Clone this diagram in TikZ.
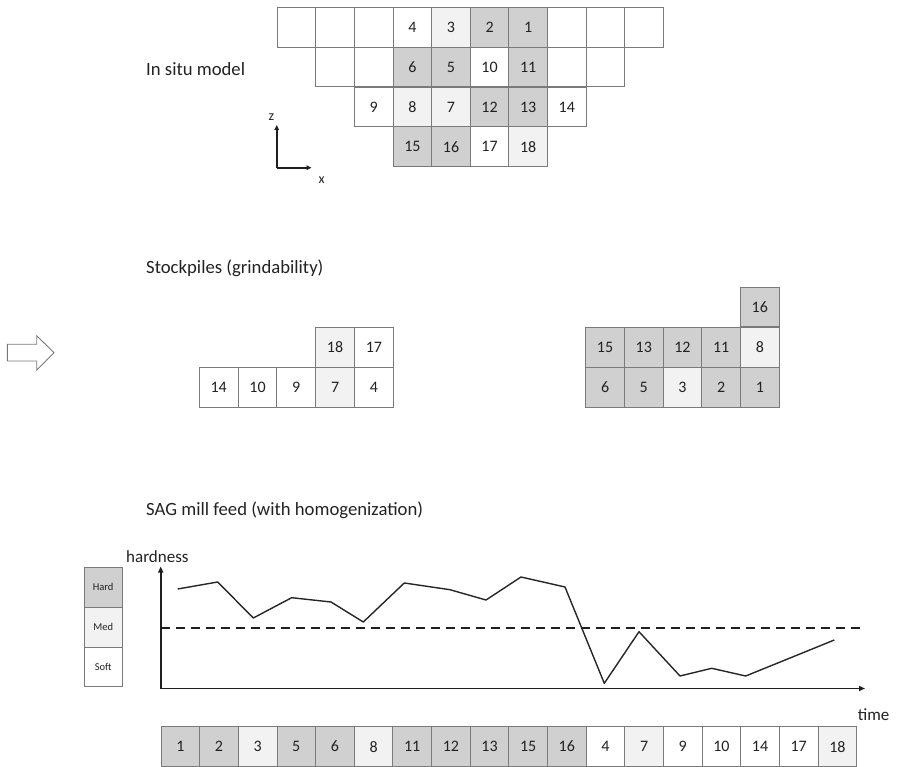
\documentclass[tikz,border=0pt]{standalone}
\usepackage{fontspec}
\setmainfont{Carlito}
\usetikzlibrary{arrows.meta}
\definecolor{hardc}{HTML}{D0D0D0}
\definecolor{medc}{HTML}{F2F2F2}
\definecolor{edgec}{HTML}{7A7A7A}
\definecolor{txtc}{HTML}{222222}
\begin{document}
\begin{tikzpicture}[x=1pt,y=-1pt,
  cell/.style={draw=edgec,line width=0.9pt,minimum width=38.6pt,minimum height=39.8pt,inner sep=0pt,
    text=txtc,font=\fontsize{16}{16}\selectfont},
  legcell/.style={draw=edgec,line width=0.9pt,minimum width=38.3pt,minimum height=39.8pt,inner sep=0pt,
    text=txtc,font=\fontsize{10.5}{10.5}\selectfont},
  title/.style={anchor=base west,inner sep=0pt,text=txtc,font=\fontsize{18.7}{18.7}\selectfont},
  axlabel/.style={anchor=base west,inner sep=0pt,text=txtc,font=\fontsize{17}{17}\selectfont},
  axisline/.style={line width=1.9pt,draw=black!88,-{Triangle[length=6pt,width=5pt]}},
  curve/.style={line width=1.4pt,draw=black!85,line join=round},
  meanline/.style={line width=1.9pt,draw=black!88,dash pattern=on 9pt off 6pt}]
\useasboundingbox (0,0) rectangle (898,767);

% ---------- In situ model ----------
\node[title] (t1) at (146,75.7) {In situ model};
\foreach \c/\t/\f [count=\i] in {0//white,1//white,2//white,3/4/white,4/3/medc,5/2/hardc,6/1/hardc,7//white,8//white,9//white}
  \node[cell,fill=\f] (ra\i) at ({296.6+38.6*\c},27.2) {\t};
\foreach \c/\t/\f [count=\i] in {1//white,2//white,3/6/hardc,4/5/hardc,5/10/white,6/11/hardc,7//white,8//white}
  \node[cell,fill=\f] (rb\i) at ({296.6+38.6*\c},67) {\t};
\foreach \c/\t/\f [count=\i] in {2/9/white,3/8/medc,4/7/medc,5/12/hardc,6/13/hardc,7/14/white}
  \node[cell,fill=\f] (rc\i) at ({296.6+38.6*\c},106.9) {\t};
\foreach \c/\t/\f [count=\i] in {3/15/hardc,4/16/hardc,5/17/white,6/18/medc}
  \node[cell,fill=\f] (rd\i) at ({296.6+38.6*\c},146.7) {\t};

% mini axes
\coordinate (o) at (276.7,167.7);
\coordinate (zt) at (276.7,125);
\coordinate (xt) at (311.5,167.7);
\draw[axisline,line width=1.7pt,-{Triangle[length=5pt,width=4.5pt]}] (o) -- (zt);
\draw[axisline,line width=1.7pt,-{Triangle[length=5pt,width=4.5pt]}] (o) -- (xt);
\node[inner sep=0pt,text=txtc,font=\fontsize{14}{14}\selectfont] (zl) at (271.5,117) {z};
\node[inner sep=0pt,text=txtc,font=\fontsize{14}{14}\selectfont] (xl) at (321.7,180) {x};

% ---------- Stockpiles ----------
\node[title] (t2) at (146,274) {Stockpiles (grindability)};
\draw[draw=edgec,line width=0.9pt,fill=white]
  (7.3,344.3) -- (36.7,344.3) -- (36.7,335.7) -- (54,352.7) -- (36.7,370) -- (36.7,361) -- (7.3,361) -- cycle;

\foreach \c/\t/\f [count=\i] in {0/14/white,1/10/white,2/9/white,3/7/medc,4/4/white}
  \node[cell,fill=\f,minimum width=38.8pt] (sa\i) at ({218.7+38.8*\c},387.3) {\t};
\foreach \c/\t/\f [count=\i] in {3/18/medc,4/17/white}
  \node[cell,fill=\f,minimum width=38.8pt] (sb\i) at ({218.7+38.8*\c},347.2) {\t};

\foreach \c/\t/\f [count=\i] in {0/6/hardc,1/5/hardc,2/3/medc,3/2/hardc,4/1/hardc}
  \node[cell,fill=\f,minimum width=38.7pt] (pa\i) at ({605.05+38.7*\c},387.3) {\t};
\foreach \c/\t/\f [count=\i] in {0/15/hardc,1/13/hardc,2/12/hardc,3/11/hardc,4/8/medc}
  \node[cell,fill=\f,minimum width=38.7pt] (pb\i) at ({605.05+38.7*\c},347.2) {\t};
\node[cell,fill=hardc,minimum width=38.7pt] (pc1) at (759.85,307) {16};

% ---------- SAG mill feed ----------
\node[title] (t3) at (146,515) {SAG mill feed (with homogenization)};

% legend
\node[legcell,fill=hardc] (lh) at (103.2,587.3) {Hard};
\node[legcell,fill=medc]  (lm) at (103.2,627.3) {Med};
\node[legcell,fill=white] (ls) at (103.2,667.0) {Soft};

% chart axes
\coordinate (c0) at (160.7,688.5);
\coordinate (cy) at (160.7,566.5);
\coordinate (cx) at (865,688.5);
\draw[axisline] (c0) -- (cy);
\draw[axisline] (c0) -- (cx);
\node[axlabel] (hl) at (126,562.3) {hardness};
\node[axlabel] (tl) at (857.7,720.7) {time};

\coordinate (m0) at (160.7,628.3);
\coordinate (m1) at (865,628.3);
\draw[meanline] (m0) -- (m1);

\draw[curve] (177.7,589) -- (217.7,582) -- (253.3,618) -- (291.7,597.7) -- (331,602)
  -- (363.3,622) -- (404.3,583) -- (450,589.7) -- (486,600) -- (521,577) -- (565,587)
  -- (604.3,683.3) -- (639,631.7) -- (680,676) -- (711.7,668.3) -- (745.7,676)
  -- (796.7,655.3) -- (834.3,640);

% bottom sequence
\foreach \t/\f [count=\i from 0] in {1/hardc,2/hardc,3/medc,5/hardc,6/hardc,8/medc,11/hardc,12/hardc,13/hardc,15/hardc,16/hardc,4/white,7/medc,9/white,10/white,14/white,17/white,18/medc}
  \node[cell,fill=\f,minimum width=38.65pt] (q\i) at ({161+38.65*(\i+0.5)},746.6) {\t};

\end{tikzpicture}
\end{document}
